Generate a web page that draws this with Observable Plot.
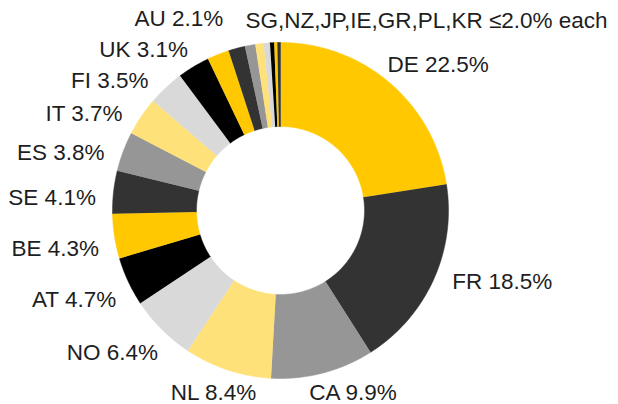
<!DOCTYPE html>
<html><head><meta charset="utf-8">
<script src="https://cdn.jsdelivr.net/npm/d3@7"></script>
<script src="https://cdn.jsdelivr.net/npm/@observablehq/plot@0.6"></script>
<style>html,body{margin:0;padding:0;background:#fff}</style>
</head><body><div id="chart"></div>
<script>
// ---- data ----
const countries = ["DE","FR","CA","NL","NO","AT","BE","SE","ES","IT","FI","UK","AU","SG","NZ","JP","IE","GR","PL","KR"];
const shares    = [22.5,18.5,9.9,8.4,6.4,4.7,4.3,4.1,3.8,3.7,3.5,3.1,2.1,1.6,1.0,0.8,0.6,0.4,0.3,0.3];
const labelledCountries = ["DE","FR","CA","NL","NO","AT","BE","SE","ES","IT","FI","UK","AU"];
const groupedCountries  = ["SG","NZ","JP","IE","GR","PL","KR"];
const groupLabelText = "SG,NZ,JP,IE,GR,PL,KR \u22642.0% each";

// ---- styles / layout ----
const palette = ["#FFC800","#333333","#969696","#FFE17A","#D9D9D9","#000000"];
const W = 618, H = 404, cx = 280, cy = 210;
const R = 168, r0 = 84;
const rho = 185, delta = 2.5 * Math.PI / 180, capH = 16, gap = 31;
const fontFamily = "'Liberation Sans', Arial, sans-serif";
const fontSize = 22.5;
const textColor = "#1e1e1e";

// ---- slice geometry from data ----
const arcs = d3.pie().sort(null).value(d => d)(shares);
const pts = [];
arcs.forEach((p, i) => {
  const n = Math.max(2, Math.ceil((p.endAngle - p.startAngle) / 0.01));
  for (let k = 0; k <= n; k++) {
    const a = p.startAngle + (p.endAngle - p.startAngle) * k / n;
    pts.push({c: countries[i], x: R * Math.sin(a), y: R * Math.cos(a)});
  }
  for (let k = n; k >= 0; k--) {
    const a = p.startAngle + (p.endAngle - p.startAngle) * k / n;
    pts.push({c: countries[i], x: r0 * Math.sin(a), y: r0 * Math.cos(a)});
  }
});

// ---- label layout ----
const ctx = document.createElement("canvas").getContext("2d");
ctx.font = `${fontSize}px ${fontFamily}`;
const labels = labelledCountries.map(c => {
  const i = countries.indexOf(c);
  const p = arcs[i];
  const t = `${c} ${shares[i].toFixed(1)}%`;
  const w = ctx.measureText(t).width;
  const th = (p.startAngle + p.endAngle) / 2 - delta;
  const s = Math.sin(th), co = Math.cos(th);
  const px = cx + rho * s, py = cy - rho * co;
  const x = px + w / 2 * Math.max(-1, Math.min(1, 1.4 * s));
  const y = py + capH / 2 * Math.max(0, -co);
  return {t, s, x, y};
});
// push crowded upper-left labels upward
const upperLeft = labels.filter(d => d.s < 0 && d.y < cy).sort((a, b) => b.y - a.y);
for (let k = 1; k < upperLeft.length; k++)
  upperLeft[k].y = Math.min(upperLeft[k].y, upperLeft[k - 1].y - gap);
for (const d of labels) {
  d.y = Math.max(fontSize * 0.55, Math.min(H - fontSize * 0.54, d.y));
  d.dx = d.x - cx; d.dy = cy - d.y;
}

const gArcs = groupedCountries.map(c => arcs[countries.indexOf(c)]);
const gTh = (d3.min(gArcs, a => a.startAngle) + d3.max(gArcs, a => a.endAngle)) / 2;
const group = [{t: groupLabelText, dx: rho * Math.sin(gTh), dy: rho * Math.cos(gTh)}];

const chart = Plot.plot({
  width: W, height: H, margin: 0,
  x: {domain: [-cx, W - cx], range: [0, W], axis: null},
  y: {domain: [-(H - cy), cy], range: [H, 0], axis: null},
  color: {domain: countries, range: countries.map((_, i) => palette[i % palette.length])},
  style: {fontFamily, background: "#fff", color: textColor},
  marks: [
    Plot.line(pts, {x: "x", y: "y", z: "c", fill: "c", stroke: "c", strokeWidth: 0.5, curve: "linear"}),
    Plot.text(labels, {x: "dx", y: "dy", text: "t", fill: textColor, fontSize, textAnchor: "middle", lineAnchor: "middle"}),
    Plot.text(group, {x: "dx", y: "dy", text: "t", fill: textColor, fontSize, textAnchor: "start", lineAnchor: "bottom", dx: -6})
  ]
});
document.getElementById("chart").appendChild(chart);
</script>
</body></html>
